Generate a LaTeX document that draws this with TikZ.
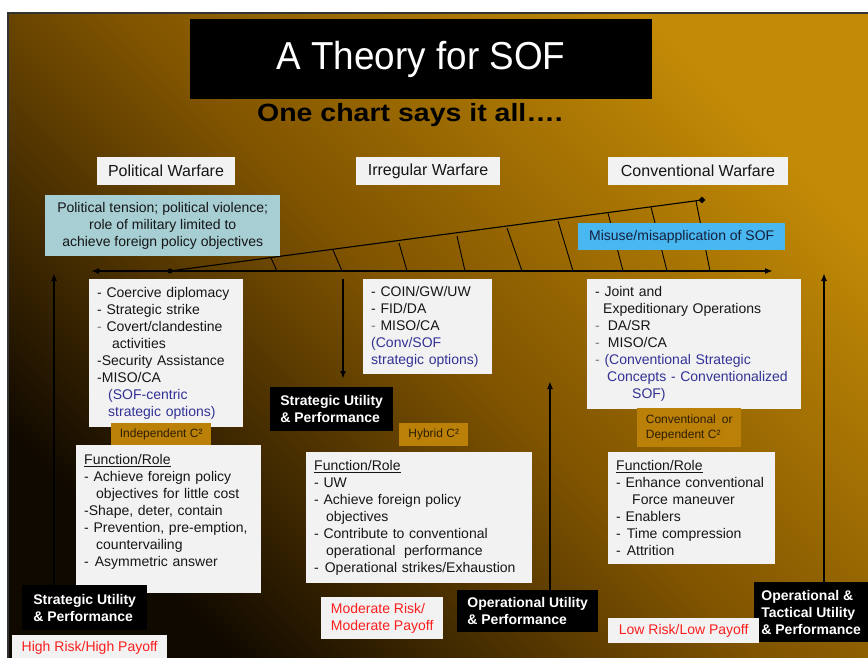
\documentclass[tikz,border=0pt]{standalone}
\usepackage{fontspec}
\setmainfont{Liberation Sans}
\usetikzlibrary{shapes.geometric,arrows.meta}

\definecolor{sofgold}{RGB}{194,138,6}
\definecolor{sofmid}{RGB}{128,84,0}
\definecolor{sofdark}{RGB}{16,9,0}
\definecolor{panelwhite}{RGB}{242,242,242}
\definecolor{ink}{RGB}{22,22,22}
\definecolor{optblue}{RGB}{50,50,150}
\definecolor{dashgray}{RGB}{120,120,130}
\definecolor{riskred}{RGB}{250,30,30}
\definecolor{c2gold}{RGB}{186,128,8}
\definecolor{c2ink}{RGB}{45,30,5}
\definecolor{tensionteal}{RGB}{166,206,211}
\definecolor{misuseblue}{RGB}{74,184,240}
\definecolor{misuseink}{RGB}{20,30,60}

\newcommand{\graydash}{\textcolor{dashgray}{-}}
\newcommand{\opt}[1]{\textcolor{optblue}{#1}}

\tikzset{
  heading/.style={fill=panelwhite, text=ink, inner sep=0pt, minimum height=28pt,
                  font=\fontsize{16}{18}\selectfont},
  panel/.style={fill=panelwhite, text=ink, anchor=north west, align=left,
                inner xsep=8pt, inner ysep=0pt, font=\fontsize{14}{17}\selectfont},
  c2box/.style={fill=c2gold, text=c2ink, anchor=north west, align=left, inner sep=0pt,
                font=\fontsize{12}{14.5}\selectfont},
  utility/.style={fill=black, text=white, anchor=north west, align=left, inner sep=0pt,
                  font=\bfseries\fontsize{14}{17}\selectfont},
  risk/.style={fill=panelwhite, text=riskred, anchor=north west, align=left, inner sep=0pt,
               font=\fontsize{14}{17}\selectfont},
  hatch/.style={line width=0.9pt},
  pointer/.style={->, line width=1.6pt}
}

\begin{document}
\begin{tikzpicture}[x=1pt, y=-1pt, >={Latex[length=8pt, width=6pt]}]
    \useasboundingbox (0,0) rectangle (868,658);
    \fill[white] (0,0) rectangle (868,658);
    \shade[top color=sofgold, bottom color=sofdark, middle color=sofmid, shading angle=-45]
          (8,13) rectangle (868,658);
    \draw[line width=2.5pt, black!80] (8,658) -- (8,13) -- (868,13);

    \node[fill=black, text=white, minimum width=462pt, minimum height=80pt, inner sep=0pt,
          font=\fontsize{39}{40}\selectfont] (title) at (421,59)
          {\scalebox{0.945}[1]{A Theory for SOF}};
    \node[text=black, font=\bfseries\fontsize{25}{27}\selectfont] (subtitle) at (410,115)
          {\scalebox{1.14}[1]{One chart says it all….}};

    \node[heading, minimum width=138pt] (political) at (166,171) {Political Warfare};
    \node[heading, minimum width=144pt] (irregular) at (428,171) {Irregular Warfare};
    \node[heading, minimum width=180pt] (conventional) at (698,171) {Conventional Warfare};

    \foreach \tx/\ty/\bx in {271/258/277, 333/250/342, 399/243/407, 457/236/465, 507/228/522,
                             558/221/573, 608/213/623, 651/207/667, 696/201/710}
        \draw[hatch] (\tx,\ty) -- (\bx,271);
    \node[circle, fill, inner sep=0pt, minimum size=5pt] (wedge_start) at (170,271) {};
    \node[diamond, fill, inner sep=0pt, minimum size=7pt] (wedge_end) at (702,200) {};
    \path (wedge_start.center) edge[line width=1.1pt] (wedge_end.center);

    \coordinate (axis_west) at (91,271);
    \coordinate (axis_east) at (773,271);
    \path (axis_west) edge[<->, line width=2pt] (axis_east);

    \node[fill=tensionteal, text=ink, anchor=north west, minimum width=235pt, minimum height=61pt,
          inner sep=0pt, align=center, font=\fontsize{14}{17}\selectfont] (tension) at (45,195)
          {Political tension; political violence;\\ role of military limited to\\
           achieve foreign policy objectives};
    \node[fill=misuseblue, text=misuseink, anchor=north west, minimum width=207pt,
          minimum height=27pt, inner sep=0pt, font=\fontsize{14}{17}\selectfont] (misuse)
          at (578,223) {Misuse/misapplication of SOF};

    \node[panel, text width=138pt, minimum height=148pt] (political_options) at (89,279)
         {- Coercive diplomacy\\
          - Strategic strike\\
          \graydash{} Covert/clandestine\\
          \hspace*{15pt}activities\\
          -Security Assistance\\
          -MISO/CA\\
          \hspace*{11pt}\opt{(SOF-centric}\\
          \hspace*{11pt}\opt{strategic options)}};
    \node[panel, text width=113pt, minimum height=95pt] (irregular_options) at (363,279)
         {- COIN/GW/UW\\
          - FID/DA\\
          \graydash{} MISO/CA\\
          \opt{(Conv/SOF}\\
          \opt{strategic options)}};
    \node[panel, text width=198pt, minimum height=130pt] (conventional_options) at (587,279)
         {- Joint and\\
          \hspace*{8pt}Expeditionary Operations\\
          \graydash\hspace*{8pt}DA/SR\\
          \graydash\hspace*{8pt}MISO/CA\\
          \graydash{} \opt{(Conventional Strategic}\\
          \hspace*{12pt}\opt{Concepts - Conventionalized}\\
          \hspace*{37pt}\opt{SOF)}};

    \node[c2box, minimum width=100pt, minimum height=23pt] (independent) at (111,423)
         {Independent C²};
    \node[c2box, minimum width=69pt, minimum height=23pt] (hybrid) at (399,423) {Hybrid C²};
    \node[c2box, minimum width=104pt, minimum height=39pt] (dependent) at (637,408)
         {Conventional\hspace*{6pt}or\\Dependent C²};

    \node[panel, text width=169pt, minimum height=148pt] (political_role) at (76,445)
         {\underline{Function/Role}\\
          - Achieve foreign policy\\
          \hspace*{12pt}objectives for little cost\\
          -Shape, deter, contain\\
          - Prevention, pre-emption,\\
          \hspace*{12pt}countervailing\\
          -\hspace*{6pt}Asymmetric answer\\ \mbox{}};
    \node[panel, text width=210pt, minimum height=131pt] (irregular_role) at (306,452)
         {\underline{Function/Role}\\
          - UW\\
          - Achieve foreign policy\\
          \hspace*{12pt}objectives\\
          - Contribute to conventional\\
          \hspace*{12pt}operational\hspace*{4pt} performance\\
          -\hspace*{6pt}Operational strikes/Exhaustion};
    \node[panel, text width=151pt, minimum height=112pt] (conventional_role) at (608,452)
         {\underline{Function/Role}\\
          - Enhance conventional\\
          \hspace*{16pt}Force maneuver\\
          - Enablers\\
          -\hspace*{6pt}Time compression\\
          -\hspace*{6pt}Attrition};

    \node[utility, minimum width=123pt, minimum height=44pt] (strategic_mid) at (270,387)
         {Strategic Utility\\\& Performance};
    \node[utility, minimum width=125pt, minimum height=45pt] (strategic_left) at (22,585)
         {Strategic Utility\\\& Performance};
    \node[utility, minimum width=141pt, minimum height=42pt] (operational_mid) at (457,590)
         {Operational Utility\\\& Performance};
    \node[utility, minimum width=114pt, minimum height=60pt] (operational_tactical) at (754,582)
         {Operational \&\\Tactical Utility\\\& Performance};

    \node[risk, minimum width=155pt, minimum height=26pt] (risk_high) at (12,635)
         {High Risk/High Payoff};
    \node[risk, minimum width=122pt, minimum height=42pt] (risk_moderate) at (321,597)
         {Moderate Risk/\\Moderate Payoff};
    \node[risk, minimum width=151pt, minimum height=25pt] (risk_low) at (608,618)
         {Low Risk/Low Payoff};

    \coordinate (strategic_tip) at (54,273);
    \coordinate (strategic_drop) at (343,279);
    \coordinate (operational_tip) at (550,381);
    \coordinate (tactical_tip) at (824,273);

    \path (strategic_left.north -| strategic_tip) edge[pointer] (strategic_tip);
    \path (strategic_drop) edge[pointer, shorten >=8pt] (strategic_drop |- strategic_mid.north);
    \path (operational_mid.north -| operational_tip) edge[pointer] (operational_tip);
    \path (operational_tactical.north -| tactical_tip) edge[pointer] (tactical_tip);
\end{tikzpicture}
\end{document}
